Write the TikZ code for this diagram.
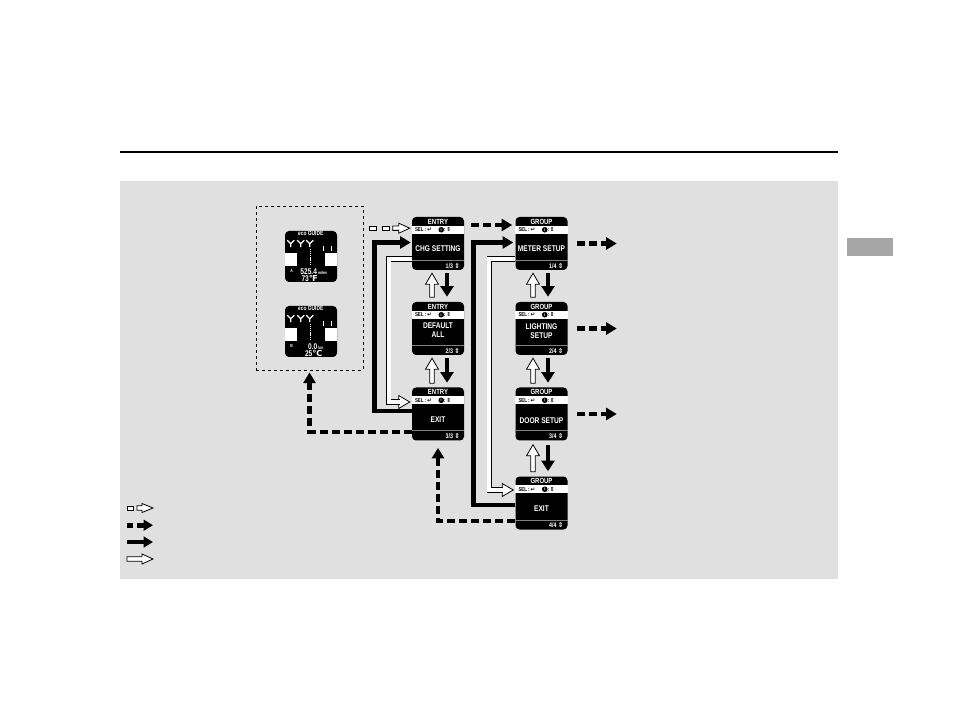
\documentclass[tikz,border=0pt]{standalone}
\usepackage{fontspec}
\setmainfont{Liberation Sans}
\newfontfamily\scrf[FakeStretch=0.8]{Liberation Sans}
\newfontfamily\symf{DejaVu Sans}
\usetikzlibrary{arrows.meta,calc}
\definecolor{panel}{HTML}{E0E0E0}
\definecolor{tabgray}{HTML}{A6A6A6}
\tikzset{
 screen/.style={fill=black, rounded corners=3pt, inner sep=0pt, minimum width=39pt, minimum height=39.75pt},
 ttl/.style={text=white, inner sep=0pt, font=\scrf\bfseries\fontsize{5.6}{6}\selectfont},
 mtx/.style={text=white, inner sep=0pt, align=center, font=\scrf\bfseries\fontsize{6.2}{6.6}\selectfont},
 seltx/.style={text=black, inner sep=0pt, font=\scrf\bfseries\fontsize{4.2}{4.5}\selectfont},
 ftx/.style={text=white, inner sep=0pt, font=\scrf\bfseries\fontsize{5}{5}\selectfont},
 ecot/.style={text=white, inner sep=0pt, font=\scrf\bfseries\fontsize{4.6}{5}\selectfont},
 econum/.style={text=white, inner sep=0pt, font=\scrf\bfseries\fontsize{6.2}{6.5}\selectfont},
 ecosmall/.style={text=white, inner sep=0pt, font=\scrf\bfseries\fontsize{3.3}{3.5}\selectfont},
 blk/.style={line width=3.5pt, line join=miter, -{Triangle[length=8pt,width=9pt]}},
 blkv/.style={line width=3.6pt, -{Triangle[length=8pt,width=9.75pt]}},
 blkl/.style={line width=3.5pt, -{Triangle[length=7pt,width=8pt]}},
 dsh/.style={blk, dash pattern=on 6pt off 3pt},
 hollow/.style={fill=white, draw=black, line width=0.6pt, line join=miter},
 dbl/.style={draw=black, line width=0.6pt, double=white, double distance=2.7pt, line join=miter},
 pics/harrow/.style 2 args={code={\draw[hollow] (0,0) -- (-11,#2) -- (-11,2.2) -- (-#1,2.2) -- (-#1,-2.2) -- (-11,-2.2) -- (-11,-#2) -- cycle;}},
 pics/htip/.style={code={\draw[hollow] (0,0) -- (-11,6.5) -- (-11,-6.5) -- cycle;}},
}
\newcommand\screenbox[6]{%
 \node[screen] (#1) at (#2) {};
 \fill[white] ($(#1.north west)+(0,9)$) rectangle ($(#1.north east)+(0,17)$);
 \node[ttl] at ($(#1.north)+(0,4.8)$) {#3};
 \node[seltx,anchor=west] at ($(#1.north west)+(3,13)$) {SEL\,:\,{\symf ↵}};
 \node[circle,fill=black,inner sep=0pt,minimum size=4.2pt,text=white,font=\scrf\bfseries\fontsize{3.5}{3.5}\selectfont] at ($(#1.north west)+(29.5,13)$) {i};
 \node[seltx,anchor=west] at ($(#1.north west)+(32,13)$) {:\,{\symf ⇕}};
 \node[mtx] at ($(#1.center)+(0,#6)$) {#4};
 \draw[gray, line width=0.4pt] ($(#1.south west)+(0,-10)$) -- ($(#1.south east)+(0,-10)$);
 \node[ftx,anchor=east] at ($(#1.south east)+(-11,-4.5)$) {#5};
 \node[ftx] at ($(#1.south east)+(-7,-4.5)$) {\symf ⇕};
}
\newcommand\ecoscreen[7]{%
 \node[screen, minimum height=38.25pt] (#1) at (#2) {};
 \node[ecot] at ($(#1.north west)+(26,3)$) {eco GUIDE};
 \foreach \yx in {6,16,25} {\draw[white,line width=0.9pt] ($(#1.north west)+(\yx-3.5,9.5)$) -- ($(#1.north west)+(\yx,13)$) -- ($(#1.north west)+(\yx+3.5,9.5)$) ($(#1.north west)+(\yx,13)$) -- ($(#1.north west)+(\yx,16.5)$);}
 \draw[white,line width=0.8pt] ($(#1.north west)+(38.5,15)$) -- ($(#1.north west)+(38.5,20)$) ($(#1.north west)+(47,15)$) -- ($(#1.north west)+(47,20)$);
 \draw[white,line width=0.5pt,dash pattern=on 1pt off 0.6pt] ($(#1.north west)+(26,18)$) -- ($(#1.north west)+(26,35)$);
 \fill[white] ($(#1.north west)+(0,22)$) rectangle ($(#1.north west)+(12,35)$);
 \fill[white] ($(#1.north west)+(40,22)$) rectangle ($(#1.north west)+(52,35)$);
 \node[ecosmall] at ($(#1.north west)+(7,40)$) {#3};
 \node[econum] (#1num) at ($(#1.north west)+(#7,40.5)$) {#4};
 \node[ecosmall,anchor=base west] at ($(#1num.base east)+(0.5,0)$) {#5};
 \node[econum] at ($(#1.north west)+(#7+1,47.5)$) {#6};
}
\begin{document}
\begin{tikzpicture}[x=0.75pt,y=-0.75pt]
\useasboundingbox (0,0) rectangle (954,709);
\fill[white] (0,0) rectangle (954,709);
\draw[line width=0.8pt] (120,152) -- (838,152);
\fill[panel] (120,181) rectangle (838,579);
\fill[tabgray] (847,238) rectangle (893,256);

% dashed frame with the two eco guide screens
\node[draw, line width=0.6pt, dash pattern=on 2.5pt off 2pt, minimum width=80.25pt, minimum height=123pt, inner sep=0pt] (frame) at (309.5,288) {};
\ecoscreen{eco1}{311,256.5}{A}{525.4}{miles}{73{\symf ℉}}{24}
\ecoscreen{eco2}{311,331.5}{B}{0.0}{km}{25{\symf ℃}}{28}

% ENTRY screens
\screenbox{e1}{438,243.5}{ENTRY}{CHG SETTING}{1/3}{5.5}
\screenbox{e2}{438,328.5}{ENTRY}{DEFAULT\\ALL}{2/3}{2}
\screenbox{e3}{438,414}{ENTRY}{EXIT}{3/3}{6}
% GROUP screens
\screenbox{g1}{541.5,243.5}{GROUP}{METER SETUP}{1/4}{5.5}
\screenbox{g2}{541.5,328.5}{GROUP}{LIGHTING\\SETUP}{2/4}{2.5}
\screenbox{g3}{541.5,414}{GROUP}{DOOR SETUP}{3/4}{7}
\screenbox{g4}{541.5,503}{GROUP}{EXIT}{4/4}{6}

% hollow dashed arrow into e1
\draw[hollow,line width=0.5pt] ($(e1.west)+(-42,-17.5)$) rectangle ++(7,4.5);
\draw[hollow,line width=0.5pt] ($(e1.west)+(-29,-17.5)$) rectangle ++(7,4.5);
\pic at ($(e1.west)+(-2,-15.3)$) {harrow={17}{5}};

% ENTRY loop
\draw[blk] ($(e3.west)+(0,-3)$) -| ($(e1.west)+(-37,-1)$) -- ($(e1.west)+(-1,-1)$);
\pic at ($(e3.west)+(-2,-12)$) {htip};
\draw[dbl] ($(e1.west)+(0,15.5)$) -| ($(e3.west)+(-23,-12)$) -- ($(e3.west)+(-12,-12)$);
\draw[dsh] ($(e3.west)+(0,18)$) -| ($(frame.south)+(0,2)$);

% ENTRY -> GROUP
\draw[dsh] ($(e1.east)+(7,-18.5)$) -- ($(g1.west)+(-3,-18.5)$);

% GROUP loop
\draw[blk] ($(g4.west)+(0,2)$) -| ($(g1.west)+(-41.5,-1)$) -- ($(g1.west)+(-2,-1)$);
\pic at ($(g4.west)+(-2,-13)$) {htip};
\draw[dbl] ($(g1.west)+(0,15.5)$) -| ($(g4.west)+(-26,-13)$) -- ($(g4.west)+(-12,-13)$);
\draw[dsh] ($(g4.west)+(0,18)$) -| ($(e3.south)+(0,7)$);

% outgoing dashed arrows
\foreach \g in {g1,g2,g3} \draw[dsh] ($(\g.east)+(9,0)$) -- ($(\g.east)+(49,0)$);

% vertical arrows ENTRY
\pic[rotate=90] at ($(e1.south)+(-6,3)$) {harrow={24}{6.5}};
\draw[blkv] ($(e1.south)+(9,3)$) -- ($(e2.north)+(9,-5)$);
\pic[rotate=90] at ($(e2.south)+(-6,3)$) {harrow={25}{6.5}};
\draw[blkv] ($(e2.south)+(9,3)$) -- ($(e3.north)+(9,-4.5)$);
% vertical arrows GROUP
\pic[rotate=90] at ($(g1.south)+(-8.5,3)$) {harrow={24}{6.5}};
\draw[blkv] ($(g1.south)+(6.5,3)$) -- ($(g2.north)+(6.5,-5)$);
\pic[rotate=90] at ($(g2.south)+(-8.5,3)$) {harrow={25}{6.5}};
\draw[blkv] ($(g2.south)+(6.5,3)$) -- ($(g3.north)+(6.5,-4.5)$);
\pic[rotate=90] at ($(g3.south)+(-8.5,4)$) {harrow={27}{6.5}};
\draw[blkv] ($(g3.south)+(6.5,4)$) -- ($(g4.north)+(6.5,-5)$);

% legend
\draw[hollow,line width=0.5pt] (127,506) rectangle (133,510.5);
\pic at (153,508) {harrow={16}{4.5}};
\fill (127,523) rectangle (133,527.5);
\draw[blkl] (137,525.2) -- (153,525.2);
\draw[blkl] (127,542) -- (153,542);
\pic at (153,559) {harrow={26}{5}};
\end{tikzpicture}
\end{document}
